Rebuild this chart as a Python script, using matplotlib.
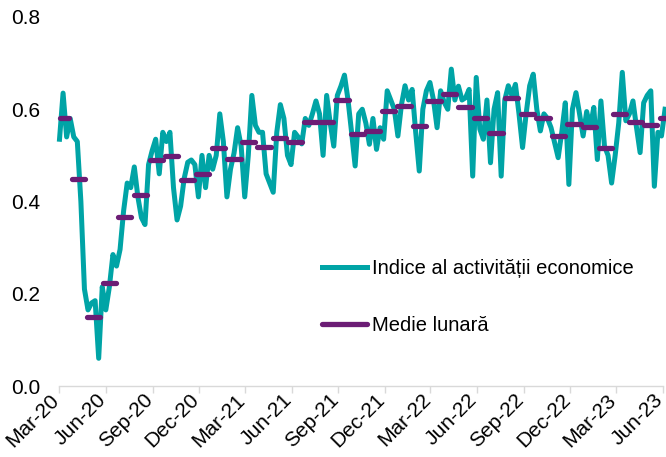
import numpy as np
import pandas as pd
import matplotlib
matplotlib.use('Agg')
import matplotlib.pyplot as plt
from matplotlib.transforms import ScaledTranslation

plt.rcParams['font.family'] = ['Liberation Sans', 'DejaVu Sans']
plt.rcParams['font.size'] = 14.5

# ---------- data ----------
# weekly index of economic activity, starting 2020-03-02
indice = [
    .535, .635, .54, .58, .54, .53, .40, .21, .165, .18,
    .185, .06, .215, .165, .215, .285, .26, .296, .38, .44,
    .43, .475, .41, .365, .35, .48, .51, .535, .46, .55,
    .53, .55, .43, .36, .39, .45, .485, .49, .48, .41,
    .50, .43, .50, .47, .50, .59, .53, .41, .47, .505,
    .56, .52, .41, .50, .63, .565, .55, .55, .46, .44,
    .42, .55, .61, .58, .50, .48, .55, .54, .525, .58,
    .565, .59, .618, .59, .50, .63, .57, .52, .63, .65,
    .674, .62, .55, .477, .59, .60, .57, .524, .58, .513,
    .56, .535, .64, .62, .60, .542, .61, .651, .62, .643,
    .55, .466, .60, .64, .658, .62, .56, .64, .615, .60,
    .687, .62, .65, .62, .625, .643, .455, .669, .557, .535,
    .62, .484, .60, .636, .455, .62, .651, .63, .654, .59,
    .517, .59, .651, .676, .60, .553, .59, .58, .56, .527,
    .495, .55, .614, .437, .60, .636, .59, .542, .595, .56,
    .604, .491, .618, .52, .50, .44, .50, .57, .68, .575,
    .59, .618, .56, .506, .614, .63, .64, .433, .55, .542,
    .60,
]
week_start = '2020-03-02'

# monthly average, Mar-20 .. Jun-23
medie = [
    .580, .448, .150, .224, .367, .415, .491, .498, .446, .459,
    .515, .492, .528, .519, .538, .528, .572, .572, .621, .546, .553, .596,
    .607, .564, .617, .634, .605, .580, .549, .624, .590, .580, .543, .567,
    .562, .517, .590, .572, .566, .580,
]
month_start = '2020-03-01'

teal = '#00A4A6'
purple = '#6C1D75'

weeks = pd.date_range(week_start, periods=len(indice), freq='7D')
months = pd.date_range(month_start, periods=len(medie), freq='MS')
tick_dates = pd.date_range('2020-03-01', '2023-06-01', freq='3MS')

fig = plt.figure(figsize=(6.66, 4.57), dpi=100)
ax = fig.add_axes([59/666, 1 - 386/457, 604/666, 369/457])

ax.plot(weeks, indice, color=teal, lw=3.6, solid_joinstyle='round',
        label='Indice al activității economice', clip_on=False, zorder=2)

# monthly dashes: from the first to the last weekly point attributed to the month
for i, (m, v) in enumerate(zip(months, medie)):
    x0 = max(m - pd.Timedelta(days=6), weeks[0])
    x1 = m + pd.Timedelta(days=20)
    if i == len(medie) - 1:
        x1 = m + pd.Timedelta(days=4)
    ax.plot([x0, x1], [v, v], color=purple, lw=3.8, solid_capstyle='round',
            clip_on=False, zorder=3, label='Medie lunară' if i == 0 else None)

ax.set_ylim(0, 0.8)
ax.set_yticks(np.arange(0, 0.81, 0.2))
ax.yaxis.set_major_formatter(plt.FormatStrFormatter('%.1f'))
ax.set_xlim(pd.Timestamp('2020-03-01'), pd.Timestamp('2023-06-01'))
ax.set_xticks(tick_dates)
ax.set_xticklabels([])

# rotated date labels, anchored just left of each tick
shift = ScaledTranslation(-3/100, -11/100, fig.dpi_scale_trans)
for d in tick_dates:
    ax.text(d, 0, d.strftime('%b-%y'), transform=ax.get_xaxis_transform() + shift,
            rotation=45, ha='right', va='center', rotation_mode='anchor',
            fontsize=15, clip_on=False)

for s in ['top', 'right', 'left']:
    ax.spines[s].set_visible(False)
ax.spines['bottom'].set_color('#d9d9d9')
ax.spines['bottom'].set_linewidth(1)
ax.tick_params(axis='x', colors='#d9d9d9', length=5, width=1)
ax.tick_params(axis='y', length=0, pad=13.5, labelsize=15)

ax.legend(loc='upper left', bbox_to_anchor=(322/666, 1 - 259.5/457),
          bbox_transform=fig.transFigure, frameon=False, handlelength=2.24,
          handletextpad=0.25, labelspacing=1.85, borderpad=0, borderaxespad=0,
          fontsize=14.5)

fig.savefig('out.png', dpi=100)
